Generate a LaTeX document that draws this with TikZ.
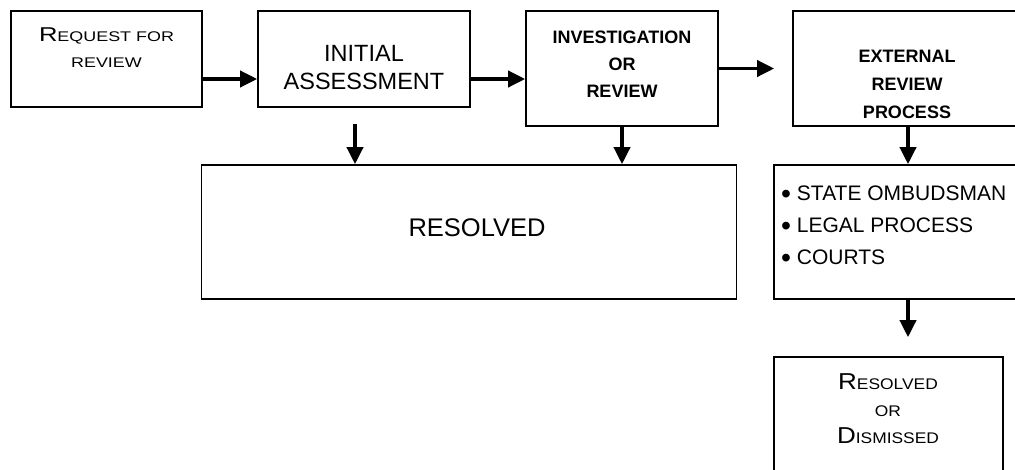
\documentclass[tikz,border=0pt]{standalone}
\usepackage{fontspec}
\setmainfont{Liberation Sans}
\newfontfamily\reqfont[FakeStretch=1.28]{Liberation Sans}
\newfontfamily\disfont[FakeStretch=1.13]{Liberation Sans}
\usepackage{tikz}
\usetikzlibrary{arrows.meta, positioning, calc}

% larger first letter for the small-caps look
\newcommand{\initcap}[2]{{\fontsize{#1}{#1}\selectfont #2}}
% bigger list bullet
\newcommand{\listdot}{\raisebox{-2.2pt}{\scalebox{1.35}{\textbullet}}\ }

\begin{document}
\begin{tikzpicture}[
  x=1pt, y=-1pt,
  box/.style  = {rectangle, draw=black, line width=1.6pt, inner sep=0pt},
  txt/.style  = {inner sep=0pt, align=center},
  arr/.style  = {-{Triangle[length=17pt, width=16pt]}, line width=3.6pt, black}
]
\clip (0,0) rectangle (1015,469);

% ── Row 1: boxes ─────────────────────────────────────────────────────────────
\node[box, minimum width=191pt, minimum height=96pt]  (req)  at (106.5,59)  {};
\node[box, minimum width=212pt, minimum height=96pt]  (init) at (364,59)    {};
\node[box, minimum width=192pt, minimum height=115pt] (inv)  at (622,68.5)  {};
\node[box, minimum width=230pt, minimum height=115pt] (ext)  at (908,68.5)  {};

% ── Row 2 and 3: outcome boxes ───────────────────────────────────────────────
\node[box, minimum width=535pt, minimum height=134pt] (res)  at (469,232)   {};
\node[box, minimum width=256pt, minimum height=134pt] (list) at (902,232)   {};
\node[box, minimum width=229pt, minimum height=132pt] (dis)  at (888.5,423) {};

% ── Texts ────────────────────────────────────────────────────────────────────
\node[txt, font=\reqfont\fontsize{14}{26}\selectfont] (req-t) at (106.5,47.4)
      {\initcap{20}{R}EQUEST FOR\\REVIEW};
\node[txt, font=\fontsize{23.5}{27.7}\selectfont] (init-t) at (364,67.8)
      {INITIAL\\ASSESSMENT};
\node[txt, font=\bfseries\fontsize{18}{26.7}\selectfont] (inv-t) at (622,64.2)
      {INVESTIGATION\\OR\\REVIEW};
\node[txt, font=\bfseries\fontsize{18}{28}\selectfont] (ext-t) at (907,84.5)
      {EXTERNAL\\REVIEW\\PROCESS};
\node[txt, font=\fontsize{25.5}{30}\selectfont] (res-t) at (477,228)
      {RESOLVED};
\node[txt, align=left, anchor=west, font=\fontsize{21}{32}\selectfont] (list-t) at (781,226.6)
      {\listdot STATE OMBUDSMAN\\\listdot LEGAL PROCESS\\\listdot COURTS};
\node[txt, font=\disfont\fontsize{15.4}{27}\selectfont] (dis-t) at (888,408.8)
      {\initcap{23}{R}ESOLVED\\OR\\\initcap{23}{D}ISMISSED};

% ── Arrows along row 1 ───────────────────────────────────────────────────────
\draw[arr] ([yshift=-20pt]req.east)  -- ([yshift=-20pt]init.west);
\draw[arr] ([yshift=-20pt]init.east) -- ([yshift=-20pt]init.east -| inv.west);
\draw[arr] (inv.east) -- ([xshift=-18pt]ext.west);

% ── Arrows down ──────────────────────────────────────────────────────────────
\coordinate (a1) at ([xshift=-9pt,yshift=-16pt]init.south);
\draw[arr] (a1) -- (a1 |- res.north);
\draw[arr] (inv.south) -- (inv.south |- res.north);
\draw[arr] (ext.south) -- (ext.south |- list.north);
\coordinate (a4) at (ext.south |- dis.north);
\draw[arr] (ext.south |- list.south) -- ([yshift=19pt]a4);
\end{tikzpicture}
\end{document}
